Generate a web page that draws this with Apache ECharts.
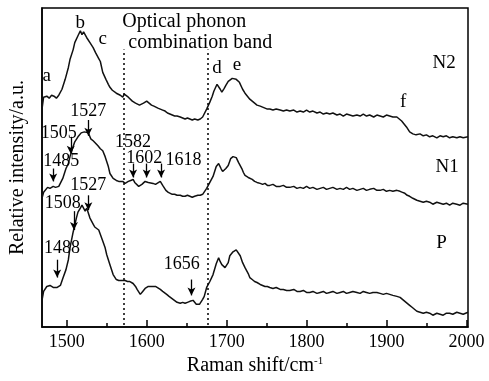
<!DOCTYPE html>
<html><head><meta charset="utf-8">
<script src="https://cdn.jsdelivr.net/npm/echarts@6/dist/echarts.min.js"></script>
<style>html,body{margin:0;padding:0;background:#fff}#c{width:489px;height:381px}</style>
</head><body><div id="c"></div>
<script>
// Raman shift (cm^-1), relative intensity (a.u., arbitrary offset units)
const seriesN2 = [[1469,220],[1471,232],[1475,233],[1478,231],[1481,234],[1484,233],[1487,231],[1490,234],[1492,235],[1494,240],[1498,250],[1502,262],[1504,270],[1508,280],[1510,287],[1514,294],[1517,299],[1519,295],[1521,298],[1523,296],[1525,292],[1529,287],[1533,282],[1536,277],[1538,275],[1540,271],[1542,268],[1545,257],[1549,250],[1552,245],[1554,242],[1557,239],[1559,238],[1562,236],[1564,235],[1567,234],[1570,232],[1572,235],[1574,234],[1577,232],[1579,230],[1582,228],[1584,227],[1586,226],[1588,225],[1591,224],[1593,225],[1596,226],[1600,228],[1603,226],[1606,224],[1609,223],[1611,222],[1614,221],[1617,220],[1620,219],[1623,218],[1626,216],[1629,215],[1632,214],[1635,213],[1638,213],[1642,212],[1645,211],[1648,210],[1651,211],[1654,210],[1657,209],[1660,210],[1664,209],[1667,210],[1670,212],[1672,214],[1675,220],[1679,227],[1682,233],[1684,238],[1688,245],[1690,243],[1692,240],[1694,237],[1697,241],[1699,244],[1702,248],[1704,250],[1707,251],[1709,252],[1712,250],[1714,250],[1716,247],[1718,245],[1720,240],[1723,236],[1725,234],[1729,230],[1732,228],[1735,226],[1738,224],[1742,223],[1745,222],[1748,221],[1751,220],[1754,220],[1758,219],[1762,220],[1767,219],[1771,218],[1775,219],[1779,218],[1784,219],[1788,217],[1792,218],[1796,217],[1800,219],[1804,217],[1808,218],[1813,216],[1817,217],[1821,215],[1825,216],[1829,215],[1833,216],[1838,214],[1842,215],[1846,213],[1850,215],[1854,214],[1858,213],[1863,214],[1867,213],[1871,215],[1875,213],[1879,214],[1884,212],[1888,214],[1892,213],[1896,212],[1900,214],[1904,213],[1908,212],[1913,212],[1916,210],[1919,208],[1922,205],[1925,202],[1929,197],[1933,195],[1937,194],[1942,195],[1946,193],[1950,194],[1954,192],[1958,193],[1963,191],[1967,193],[1971,192],[1975,193],[1979,191],[1983,192],[1988,191],[1992,192],[1996,191],[2002,192]];
const seriesN1 = [[1469,130],[1471,136],[1473,138],[1476,141],[1479,140],[1481,141],[1483,142],[1486,141],[1488,143],[1490,142],[1492,144],[1495,150],[1499,160],[1502,165],[1504,172],[1507,180],[1510,187],[1514,192],[1518,196],[1520,194],[1522,197],[1524,195],[1527,196],[1530,190],[1533,188],[1535,187],[1539,183],[1542,180],[1545,178],[1548,172],[1552,162],[1554,155],[1558,150],[1562,148],[1565,147],[1567,146],[1570,147],[1573,145],[1577,147],[1580,148],[1583,149],[1585,146],[1587,144],[1590,142],[1594,144],[1598,147],[1600,148],[1602,146],[1604,144],[1608,145],[1611,144],[1613,146],[1617,147],[1620,143],[1624,138],[1627,136],[1629,135],[1632,134],[1635,134],[1638,133],[1642,133],[1645,132],[1648,132],[1651,133],[1654,132],[1657,131],[1660,132],[1664,133],[1667,133],[1670,134],[1672,136],[1675,140],[1679,146],[1683,152],[1687,162],[1690,165],[1693,160],[1695,157],[1699,160],[1702,163],[1705,170],[1708,172],[1710,170],[1712,171],[1715,166],[1717,164],[1719,160],[1721,156],[1723,153],[1725,155],[1727,151],[1729,150],[1732,149],[1735,147],[1738,146],[1742,145],[1745,144],[1748,145],[1751,143],[1754,143],[1758,144],[1762,142],[1767,142],[1771,143],[1775,141],[1779,141],[1784,142],[1788,140],[1792,141],[1796,140],[1800,142],[1804,140],[1808,141],[1813,139],[1817,140],[1821,141],[1825,139],[1829,140],[1833,141],[1838,139],[1842,140],[1846,139],[1850,141],[1854,139],[1858,140],[1863,138],[1867,139],[1871,140],[1875,138],[1879,139],[1884,140],[1888,138],[1892,138],[1896,139],[1900,137],[1904,138],[1908,137],[1913,138],[1917,137],[1920,136],[1923,135],[1926,133],[1929,132],[1933,130],[1938,128],[1942,127],[1946,126],[1950,127],[1954,126],[1958,124],[1963,126],[1967,125],[1971,124],[1975,125],[1979,123],[1983,125],[1988,124],[1992,123],[1996,125],[2002,124]];
const seriesP = [[1469,27],[1471,36],[1472,38],[1475,41],[1477,40],[1479,42],[1481,41],[1483,40],[1485,38],[1488,40],[1490,41],[1492,42],[1495,49],[1499,58],[1502,68],[1504,80],[1508,96],[1512,110],[1514,116],[1517,120],[1519,123],[1521,120],[1523,117],[1525,120],[1527,119],[1529,110],[1531,107],[1533,104],[1535,101],[1537,100],[1540,98],[1542,97],[1545,87],[1548,80],[1550,73],[1554,63],[1558,53],[1562,48],[1565,47],[1567,46],[1570,47],[1573,47],[1576,46],[1579,46],[1581,45],[1583,44],[1586,41],[1588,38],[1592,33],[1595,36],[1598,39],[1600,40],[1602,41],[1604,42],[1606,41],[1608,40],[1611,41],[1613,39],[1617,38],[1620,36],[1622,35],[1625,33],[1628,31],[1630,29],[1633,28],[1635,27],[1638,25],[1642,24],[1645,25],[1648,24],[1651,25],[1654,26],[1656,27],[1658,27],[1660,25],[1662,23],[1664,22],[1666,23],[1668,25],[1670,28],[1672,31],[1675,40],[1679,46],[1683,53],[1687,64],[1690,70],[1692,66],[1694,63],[1696,61],[1698,60],[1700,62],[1702,65],[1704,72],[1706,74],[1708,76],[1710,77],[1712,78],[1714,76],[1717,72],[1720,65],[1723,60],[1725,57],[1727,54],[1729,50],[1732,48],[1735,46],[1738,45],[1742,43],[1745,42],[1748,41],[1751,41],[1754,40],[1758,39],[1762,40],[1767,38],[1771,38],[1775,37],[1779,37],[1784,38],[1788,36],[1792,36],[1796,37],[1800,35],[1804,35],[1808,36],[1813,34],[1817,35],[1821,36],[1825,34],[1829,35],[1833,36],[1838,34],[1842,35],[1846,36],[1850,34],[1854,35],[1858,36],[1863,35],[1867,34],[1871,36],[1875,35],[1879,34],[1883,35],[1888,35],[1892,34],[1896,33],[1900,34],[1904,33],[1908,32],[1910,32],[1913,31],[1917,30],[1920,28],[1923,26],[1926,24],[1929,22],[1932,20],[1935,18],[1938,16],[1942,15],[1946,14],[1950,15],[1954,14],[1958,12],[1963,14],[1967,13],[1971,12],[1975,14],[1979,14],[1983,13],[1988,15],[1992,14],[1996,13],[2002,15]];
const majorTicks = [1500,1600,1700,1800,1900,2000];
const minorTicks = [1550,1650,1750,1850,1950];
const bandBounds = [1571,1676];
// text labels: [text, x, y, fontSize]
const labels = [
  ['a',1475,253,19],['b',1517,307,19],['c',1545,291,19],['d',1688,261,19],['e',1713,264,19],['f',1921,227,19],
  ['N2',1972,266,19],['N1',1976,162,19],['P',1969,85,19],
  ['Optical phonon',1647,308,20],['combination band',1667,287,20],
  ['1527',1527,218,18],['1505',1490,196,18],['1485',1493,167,18],
  ['1582',1583,187,18],['1602',1597,170,18],['1618',1646,168,18],
  ['1527',1527,143,18],['1508',1495,125,18],['1488',1494,80,18],['1656',1644,63,18]
];
// arrows: [x, yFrom, yTo]
const arrows = [
  [1527,209,193],[1505,192,175],[1483,160,147],
  [1583,165,151],[1600,165,151],[1618,165,151],
  [1527,133,118],[1509,117,98],[1488,68,50],[1656,48,32]
];

const FONT = 'Liberation Serif';
const chart = echarts.init(document.getElementById('c'));
const lineStyle = {color:'#111', width:1.5};
chart.setOption({
  animation:false,
  grid:{left:42,right:21,top:8,bottom:51,show:true,borderColor:'#000',borderWidth:1.5},
  xAxis:[{
    type:'value',min:1469,max:2002,
    name:'Raman shift/cm{sup|-1}',nameLocation:'middle',nameGap:28,
    nameTextStyle:{fontFamily:FONT,fontSize:20,color:'#000',rich:{sup:{fontFamily:FONT,fontSize:11,color:'#000',verticalAlign:'top',padding:[0,0,9,0]}}},
    axisLine:{lineStyle:{color:'#000',width:1.5}},
    axisTick:{inside:true,length:7,customValues:majorTicks,lineStyle:{color:'#000',width:1.5}},
    axisLabel:{customValues:majorTicks,formatter:v=>String(v),fontFamily:FONT,fontSize:18,color:'#000',margin:6},
    splitLine:{show:false}
  },{
    type:'value',min:1469,max:2002,position:'bottom',
    axisLine:{show:false},
    axisTick:{inside:true,length:4,customValues:minorTicks,lineStyle:{color:'#000',width:1.5}},
    axisLabel:{show:false},splitLine:{show:false}
  }],
  yAxis:{
    type:'value',min:0,max:322,
    name:'Relative intensity/a.u.',nameLocation:'middle',nameGap:14,
    nameTextStyle:{fontFamily:FONT,fontSize:20,color:'#000'},
    axisLine:{show:true,lineStyle:{color:'#000',width:1.5}},
    axisTick:{show:false},axisLabel:{show:false},splitLine:{show:false}
  },
  series:[
    {type:'line',data:seriesN2,showSymbol:false,lineStyle,
     markLine:{silent:true,symbol:['none','none'],label:{show:false},
       lineStyle:{type:[2,3],color:'#000',width:1.5},
       data:bandBounds.map(b=>[{coord:[b,2]},{coord:[b,280]}])},
     markPoint:{silent:true,symbol:'circle',symbolSize:0,
       label:{show:true,position:'inside',fontFamily:FONT,color:'#000'},
       data:labels.map(l=>({coord:[l[1],l[2]],value:l[0],label:{formatter:l[0],fontSize:l[3]}}))}},
    {type:'line',data:seriesN1,showSymbol:false,lineStyle,
     markLine:{silent:true,symbol:['none','arrow'],symbolSize:[6,8],label:{show:false},
       lineStyle:{type:'solid',color:'#000',width:1.3},
       data:arrows.map(a=>[{coord:[a[0],a[1]]},{coord:[a[0],a[2]]}])}},
    {type:'line',data:seriesP,showSymbol:false,lineStyle}
  ]
});
</script></body></html>
